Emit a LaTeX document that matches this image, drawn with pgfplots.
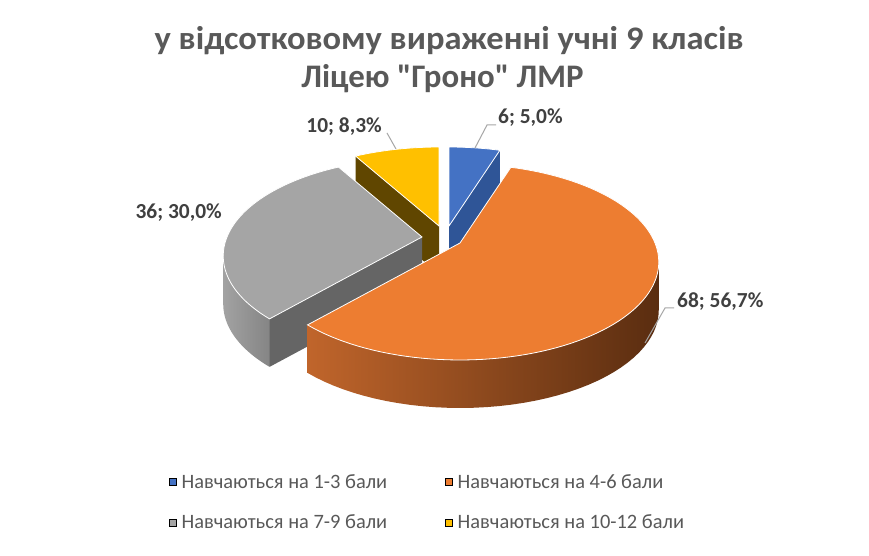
\documentclass[border=0pt]{standalone}
\usepackage{pgfplots}
\pgfplotsset{compat=1.18}
\usepackage{pgfplotstable}
\usepackage{fontspec}
\setmainfont{Carlito}
\newfontfamily\widefont[FakeStretch=1.05]{Carlito}
\definecolor{cBlue}{HTML}{4472C4}
\definecolor{cBlueD}{HTML}{2F5597}
\definecolor{cOrange}{HTML}{ED7D31}
\definecolor{cOrangeL}{HTML}{C0652B}
\definecolor{cOrangeR}{HTML}{5A2D10}
\definecolor{cGrey}{HTML}{A5A5A5}
\definecolor{cGreyD}{HTML}{656565}
\definecolor{cGreyL}{HTML}{A2A2A2}
\definecolor{cGreyR}{HTML}{858585}
\definecolor{cYellow}{HTML}{FFC000}
\definecolor{cYellowD}{HTML}{604600}
\definecolor{cTitle}{HTML}{595959}
\definecolor{cLabel}{HTML}{404040}
\definecolor{cLeader}{HTML}{A6A6A6}

\pgfplotstableread{
grp value
1-3 6
4-6 68
7-9 36
10-12 10
}\piedata

\begin{document}
\begin{tikzpicture}
\pgfplotstablegetelem{0}{value}\of\piedata \pgfmathsetmacro\vA{\pgfplotsretval}
\pgfplotstablegetelem{1}{value}\of\piedata \pgfmathsetmacro\vB{\pgfplotsretval}
\pgfplotstablegetelem{2}{value}\of\piedata \pgfmathsetmacro\vC{\pgfplotsretval}
\pgfplotstablegetelem{3}{value}\of\piedata \pgfmathsetmacro\vD{\pgfplotsretval}
\pgfmathsetmacro\tot{\vA+\vB+\vC+\vD}
\pgfmathsetmacro\aA{90}
\pgfmathsetmacro\aB{\aA-360*(\vA/\tot)}
\pgfmathsetmacro\aC{\aB-360*(\vB/\tot)}
\pgfmathsetmacro\aD{\aC-360*(\vC/\tot)}
\pgfmathsetmacro\aE{\aD-360*(\vD/\tot)}
\begin{axis}[
  x=1bp, y=1bp, xmin=0, xmax=869, ymin=0, ymax=556,
  hide axis, clip=false,
  declare function={
    PX(\a)=195*cos(\a)/(1+0.194*sin(\a));
    PY(\a)=94.3*sin(\a)/(1+0.194*sin(\a));
    WA(\t,\p,\q)=(\t<40.5)?(\p+(\q-\p)*\t/40):(\q-(\q-\p)*(\t-41)/40);
  },
  legend style={at={(axis cs:166,86)}, anchor=north west, draw=none, fill=none,
    font=\fontsize{20.5}{24}\selectfont, text=cTitle, row sep=21bp,
    /tikz/every even column/.append style={column sep=56bp}},
  legend columns=2,
  legend cell align=left,
  legend image code/.code={\fill[#1] (0bp,-3.5bp) rectangle (7bp,3.5bp); \path (10bp,0bp);},
]
% background
\addplot[fill=white, draw=none, forget plot] coordinates {(0,0) (869,0) (869,556) (0,556)} -- cycle;

% ---- yellow slice (10-12)
\addplot[fill=cYellowD, draw=none, domain=0:3, samples=4, forget plot]
  ({439+(x>0.5)*(x<2.5)*PX(\aD)}, {330+(x>0.5)*(x<2.5)*PY(\aD)-(x>1.5)*48}) -- cycle;
\addplot[fill=cYellow, draw=white, line width=0.8bp, domain=\aE:\aD, samples=30, forget plot]
  ({439+PX(x)}, {330+PY(x)}) -- (axis cs:439,330) -- cycle;

% ---- blue slice (1-3)
\addplot[fill=cBlueD, draw=none, domain=0:3, samples=4, forget plot]
  ({449+(x>0.5)*(x<2.5)*PX(\aB)}, {330+(x>0.5)*(x<2.5)*PY(\aB)-(x>1.5)*48}) -- cycle;
\addplot[fill=cBlue, draw=white, line width=0.8bp, domain=\aB:\aA, samples=30, forget plot]
  ({449+PX(x)}, {330+PY(x)}) -- (axis cs:449,330) -- cycle;

% ---- grey slice (7-9)
\addplot[draw=none, left color=cGreyL, right color=cGreyR, domain=0:81, samples=82, forget plot]
  ({422+PX(WA(x,-168.8,\aC))}, {319+PY(WA(x,-168.8,\aC))-(x>40.5)*48}) -- cycle;
\addplot[fill=cGreyD, draw=none, domain=0:3, samples=4, forget plot]
  ({422+(x>0.5)*(x<2.5)*PX(\aC)}, {319+(x>0.5)*(x<2.5)*PY(\aC)-(x>1.5)*48}) -- cycle;
\addplot[fill=cGrey, draw=white, line width=0.8bp, domain=\aD:\aC, samples=60, forget plot]
  ({422+PX(x)}, {319+PY(x)}) -- (axis cs:422,319) -- cycle;

% ---- orange slice (4-6)
\addplot[draw=none, left color=cOrangeL, right color=cOrangeR, domain=0:81, samples=82, forget plot]
  ({460+PX(WA(x,\aC,-11.2))}, {313+PY(WA(x,\aC,-11.2))-(x>40.5)*48}) -- cycle;
\addplot[fill=cOrange, draw=white, line width=0.8bp, domain=\aC:\aB, samples=100, forget plot]
  ({460+PX(x)}, {313+PY(x)}) -- (axis cs:460,313) -- cycle;

% ---- leader lines
\addplot[cLeader, line width=1bp, forget plot] coordinates {(475,408) (487,431) (496,431)};
\addplot[cLeader, line width=1bp, forget plot] coordinates {(396,407) (387,423)};
\addplot[cLeader, line width=1bp, forget plot] coordinates {(645,213) (665,248) (674,248)};

% ---- data labels
\node[anchor=west, inner sep=0pt, text=cLabel, font=\fontsize{21.5}{24}\selectfont\bfseries] at (axis cs:498,438) {6; 5,0\%};
\node[anchor=east, inner sep=0pt, text=cLabel, font=\fontsize{21.5}{24}\selectfont\bfseries] at (axis cs:382,429) {10; 8,3\%};
\node[anchor=east, inner sep=0pt, text=cLabel, font=\fontsize{21.5}{24}\selectfont\bfseries] at (axis cs:222,343) {36; 30,0\%};
\node[anchor=west, inner sep=0pt, text=cLabel, font=\fontsize{21.5}{24}\selectfont\bfseries] at (axis cs:677,254) {68; 56,7\%};

% ---- title
\node[text=cTitle, inner sep=0pt, font=\widefont\fontsize{33}{38}\selectfont\bfseries] at (axis cs:449,515) {у відсотковому вираженні учні 9 класів};
\node[text=cTitle, inner sep=0pt, font=\fontsize{33}{38}\selectfont\bfseries] at (axis cs:442.5,477) {Ліцею \textquotedbl Гроно\textquotedbl{} ЛМР};

% ---- legend
\addlegendimage{fill=cBlue}
\addlegendentry{Навчаються на 1-3 бали}
\addlegendimage{fill=cOrange}
\addlegendentry{Навчаються на 4-6 бали}
\addlegendimage{fill=cGrey}
\addlegendentry{Навчаються на 7-9 бали}
\addlegendimage{fill=cYellow}
\addlegendentry{Навчаються на 10-12 бали}
\end{axis}
\end{tikzpicture}
\end{document}
